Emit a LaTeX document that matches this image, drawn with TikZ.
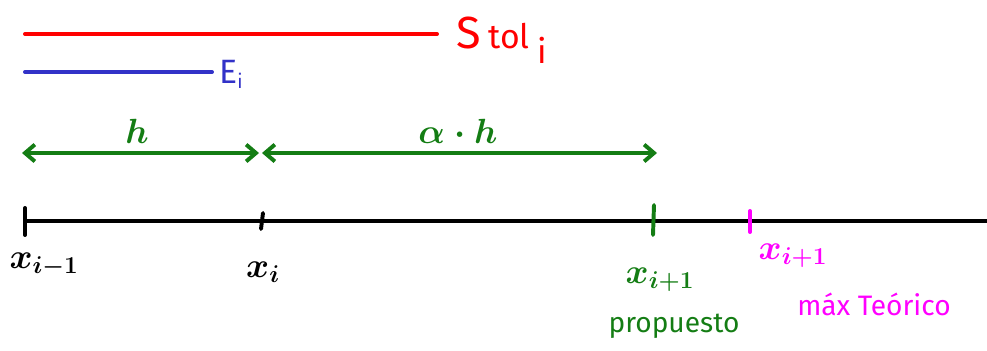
\documentclass[tikz,border=0pt]{standalone}
\usepackage{fontspec}
\setmainfont{Fira Sans}
\usetikzlibrary{arrows.meta}
\definecolor{tolred}{RGB}{255,0,0}
\definecolor{errblue}{RGB}{50,50,200}
\definecolor{stepgreen}{RGB}{20,125,20}
\definecolor{maxmag}{RGB}{255,0,255}
\tikzset{
  bar/.style={line width=2.8pt, line cap=round},
  span/.style={line width=2.8pt, stepgreen, {Straight Barb[length=7pt,width=12pt]}-{Straight Barb[length=7pt,width=12pt]}},
  tick/.style={line width=2.8pt, line cap=round},
  lbl/.style={inner sep=0pt},
  pt/.style={inner sep=0pt, font=\fontsize{25}{27}\selectfont\boldmath},
  len/.style={inner sep=0pt, stepgreen, font=\fontsize{26}{28}\selectfont\boldmath}
}
\begin{document}
\begin{tikzpicture}[x=0.025cm, y=-0.025cm]
  \useasboundingbox (0,0) rectangle (987,350);
  % tolerance and error bars
  \coordinate (R0) at (25,34);
  \coordinate (R1) at (437,34);
  \coordinate (B0) at (25,72);
  \coordinate (B1) at (212,72);
  \draw[bar, tolred] (R0) -- (R1);
  \draw[bar, errblue] (B0) -- (B1);
  \node[lbl, anchor=base west, tolred] (tol) at (456,48) {\fontsize{32}{34}\selectfont S\,{\fontsize{24}{26}\selectfont tol}\,\raisebox{-0.35em}{\fontsize{24}{26}\selectfont i}};
  \node[lbl, anchor=base west, errblue] (err) at (219,83) {\fontsize{24}{26}\selectfont E$_{\mathsf{i}}$};
  % step sizes
  \coordinate (H0) at (22,153);
  \coordinate (H1) at (259,153);
  \coordinate (H2) at (262,153);
  \coordinate (H3) at (657,153);
  \draw[span] (H0) -- (H1);
  \draw[span] (H2) -- (H3);
  \node[len] (hlen) at (137,131) {$h$};
  \node[len] (ahlen) at (458,131) {$\alpha\cdot h$};
  % axis
  \coordinate (A0) at (25,221);
  \coordinate (A1) at (987,221);
  \draw[line width=2.8pt] (A0) -- (A1);
  \draw[tick] (25,208) coordinate (T0a) -- (25,235) coordinate (T0b);
  \draw[tick] (263,213) coordinate (T1a) -- (261,229) coordinate (T1b);
  \draw[tick, stepgreen] (654,205) coordinate (T2a) -- (653,235) coordinate (T2b);
  \draw[tick, maxmag] (750,211) coordinate (T3a) -- (750,232) coordinate (T3b);
  % points
  \node[pt] (xa) at (44,265) {$x_{i-1}$};
  \node[pt] (xb) at (263,272) {$x_i$};
  \node[pt, stepgreen] (xc) at (660,280) {$x_{i+1}$};
  \node[lbl, stepgreen] (prop) at (674,326) {\fontsize{20}{22}\selectfont propuesto};
  \node[pt, maxmag] (xd) at (793,256) {$x_{i+1}$};
  \node[lbl, maxmag] (teo) at (874,304) {\fontsize{20}{22}\selectfont máx Teórico};
\end{tikzpicture}
\end{document}
